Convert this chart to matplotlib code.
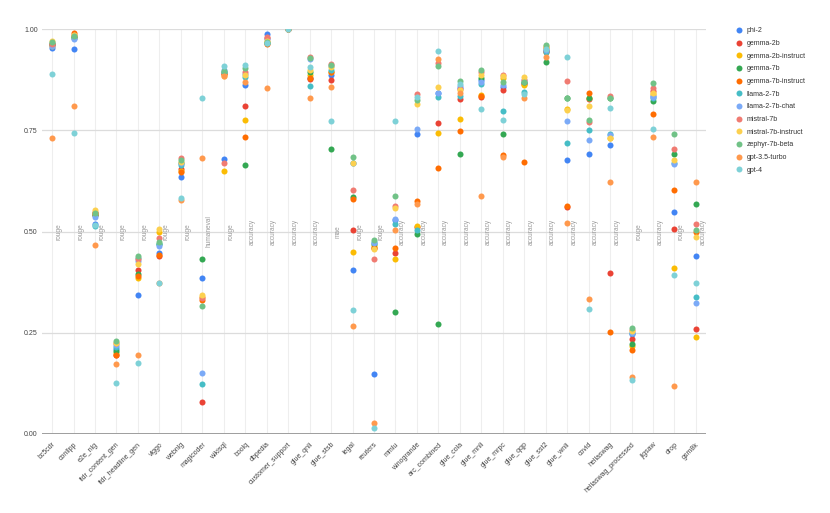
import numpy as np
import matplotlib
matplotlib.use("Agg")
import matplotlib.pyplot as plt
from matplotlib.lines import Line2D

plt.rcParams["font.family"] = ["Liberation Sans", "DejaVu Sans"]

datasets = ["bc5cdr", "conllpp", "e2e_nlg", "tldr_content_gen", "tldr_headline_gen", "viggo",
            "webnlg", "magicoder", "wikisql", "boolq", "dbpedia", "customer_support", "glue_qnli",
            "glue_stsb", "legal", "reuters", "mmlu", "winogrande", "arc_combined", "glue_cola",
            "glue_mnli", "glue_mrpc", "glue_qqp", "glue_sst2", "glue_wnli", "covid", "hellaswag",
            "hellaswag_processed", "jigsaw", "drop", "gsm8k"]
metrics = ["rouge", "rouge", "rouge", "rouge", "rouge", "rouge", "rouge", "humaneval", "rouge",
           "accuracy", "accuracy", "accuracy", "accuracy", "mae", "rouge", "rouge", "accuracy",
           "accuracy", "accuracy", "accuracy", "accuracy", "accuracy", "accuracy", "accuracy",
           "accuracy", "accuracy", "accuracy", "rouge", "accuracy", "rouge", "accuracy"]

models = ["phi-2", "gemma-2b", "gemma-2b-instruct", "gemma-7b", "gemma-7b-instruct", "llama-2-7b",
          "llama-2-7b-chat", "mistral-7b", "mistral-7b-instruct", "zephyr-7b-beta",
          "gpt-3.5-turbo", "gpt-4"]
colors = ["#4285F4", "#EA4335", "#FBBC04", "#34A853", "#FF6D01", "#46BDC6",
          "#7BAAF7", "#F07B72", "#FCD04F", "#71C287", "#FF994D", "#7ED1D7"]

# one row per model, one column per dataset (same order as `datasets`)
phi_2 = [0.952, 0.950, 0.518, 0.210, 0.342, 0.446, 0.634, 0.384, 0.679, 0.862, 0.988, 1.0, 0.880,
         0.886, 0.404, 0.149, 0.528, 0.741, 0.843, 0.855, 0.875, 0.858, 0.866, 0.948, 0.676, 0.692,
         0.714, 0.248, 0.835, 0.549, 0.440]
gemma_2b = [0.960, 0.980, 0.540, 0.195, 0.404, 0.440, 0.655, 0.079, 0.890, 0.811, 0.978, 1.0, 0.876,
            0.874, 0.504, 0.460, 0.446, 0.510, 0.767, 0.827, 0.833, 0.849, 0.864, 0.945, 0.560,
            0.827, 0.397, 0.235, 0.848, 0.505, 0.259]
gemma_2b_instruct = [0.958, 0.978, 0.545, 0.200, 0.384, 0.500, 0.650, 0.338, 0.650, 0.775, 0.968,
                     1.0, 0.886, 0.895, 0.450, 0.464, 0.431, 0.514, 0.744, 0.777, 0.837, 0.880,
                     0.862, 0.952, 0.802, 0.830, 0.730, 0.218, 0.840, 0.410, 0.240]
gemma_7b = [0.962, 0.982, 0.540, 0.205, 0.394, 0.470, 0.668, 0.433, 0.893, 0.664, 0.965, 1.0, 0.895,
            0.704, 0.586, 0.470, 0.302, 0.493, 0.272, 0.691, 0.880, 0.740, 0.868, 0.918, 0.830,
            0.830, 0.830, 0.222, 0.823, 0.692, 0.569]
gemma_7b_instruct = [0.962, 0.990, 0.545, 0.195, 0.390, 0.442, 0.648, 0.330, 0.888, 0.734, 0.962,
                     1.0, 0.878, 0.893, 0.580, 0.460, 0.460, 0.576, 0.656, 0.748, 0.835, 0.689,
                     0.672, 0.942, 0.563, 0.843, 0.252, 0.207, 0.789, 0.602, 0.500]
llama_2_7b = [0.965, 0.978, 0.513, 0.215, 0.435, 0.470, 0.664, 0.123, 0.895, 0.882, 0.966, 1.0,
              0.859, 0.900, 0.668, 0.475, 0.519, 0.504, 0.831, 0.835, 0.865, 0.797, 0.845, 0.944,
              0.718, 0.751, 0.740, 0.250, 0.830, 0.670, 0.339]
llama_2_7b_chat = [0.957, 0.976, 0.535, 0.220, 0.428, 0.464, 0.670, 0.151, 0.900, 0.890, 0.975, 1.0,
                   0.925, 0.908, 0.670, 0.472, 0.532, 0.753, 0.843, 0.860, 0.870, 0.862, 0.875,
                   0.948, 0.774, 0.726, 0.738, 0.249, 0.831, 0.667, 0.323]
mistral_7b = [0.962, 0.985, 0.548, 0.225, 0.432, 0.483, 0.681, 0.335, 0.668, 0.895, 0.981, 1.0,
              0.932, 0.914, 0.602, 0.431, 0.562, 0.840, 0.915, 0.852, 0.895, 0.887, 0.873, 0.955,
              0.872, 0.770, 0.835, 0.258, 0.854, 0.704, 0.519]
mistral_7b_instruct = [0.970, 0.986, 0.552, 0.224, 0.419, 0.505, 0.672, 0.342, 0.885, 0.886, 0.971,
                       1.0, 0.900, 0.905, 0.668, 0.456, 0.557, 0.816, 0.856, 0.849, 0.886, 0.884,
                       0.882, 0.957, 0.800, 0.811, 0.732, 0.255, 0.842, 0.677, 0.487]
zephyr_7b_beta = [0.967, 0.983, 0.545, 0.230, 0.440, 0.475, 0.676, 0.317, 0.897, 0.903, 0.968, 1.0,
                  0.928, 0.910, 0.683, 0.479, 0.588, 0.825, 0.909, 0.872, 0.899, 0.869, 0.868,
                  0.960, 0.830, 0.775, 0.829, 0.261, 0.866, 0.740, 0.504]
gpt_35_turbo = [0.732, 0.810, 0.467, 0.173, 0.194, 0.372, 0.578, 0.682, 0.885, 0.870, 0.854, 1.0,
                0.829, 0.856, 0.266, 0.026, 0.504, 0.569, 0.925, 0.843, 0.588, 0.683, 0.829,
                0.932, 0.520, 0.333, 0.621, 0.141, 0.734, 0.119, 0.621]
gpt_4 = [0.889, 0.742, 0.515, 0.125, 0.175, 0.374, 0.582, 0.829, 0.908, 0.911, 0.965, 1.0, 0.905,
         0.772, 0.305, 0.014, 0.774, 0.833, 0.946, 0.864, 0.802, 0.776, 0.840, 0.950, 0.930, 0.309,
         0.804, 0.134, 0.753, 0.393, 0.373]

scores = [phi_2, gemma_2b, gemma_2b_instruct, gemma_7b, gemma_7b_instruct, llama_2_7b,
          llama_2_7b_chat, mistral_7b, mistral_7b_instruct, zephyr_7b_beta, gpt_35_turbo, gpt_4]

fig = plt.figure(figsize=(8.3, 5.13), dpi=100)
ax = fig.add_axes([42 / 830, 1 - 434 / 513, 664 / 830, 405 / 513])
xs = np.arange(len(datasets))

for name, col, vals in zip(models, colors, scores):
    ax.scatter(xs, vals, s=19, c=col, lw=0, zorder=3, label=name)

for i, m in enumerate(metrics):
    ax.annotate(m, (i, 0.5), xytext=(2.5, 0), textcoords="offset points", rotation=90,
                ha="left", va="center", fontsize=4.7, color="#9a9a9a", zorder=2)

ax.set_xlim(-0.47, len(datasets) - 1 + 0.47)
ax.set_ylim(0, 1)
ax.set_yticks([0, 0.25, 0.5, 0.75, 1.0])
ax.set_yticklabels(["0.00", "0.25", "0.50", "0.75", "1.00"])
ax.set_xticks(xs)
ax.set_xticklabels(datasets, rotation=45, ha="right", rotation_mode="anchor")
ax.tick_params(length=0, labelsize=5, colors="#444444")
ax.tick_params(axis="x", pad=5)
ax.tick_params(axis="y", pad=3)
for s in ax.spines.values():
    s.set_visible(False)
ax.grid(axis="y", color="#dcdcdc", lw=0.9, zorder=0)
ax.grid(axis="x", color="#eeeeee", lw=0.8, zorder=0)
ax.axhline(0, color="#9e9e9e", lw=1.4, zorder=1)
ax.set_axisbelow(True)

handles = [Line2D([], [], ls="", marker="o", ms=4.3, mfc=c, mec="none") for c in colors]
fig.legend(handles, models, loc="upper left", bbox_to_anchor=(729 / 830, 1 - 21 / 513),
           frameon=False, fontsize=5, labelspacing=0.82, handletextpad=0.45, handlelength=1.2,
           labelcolor="#333333")

fig.savefig("out.png", dpi=100)
